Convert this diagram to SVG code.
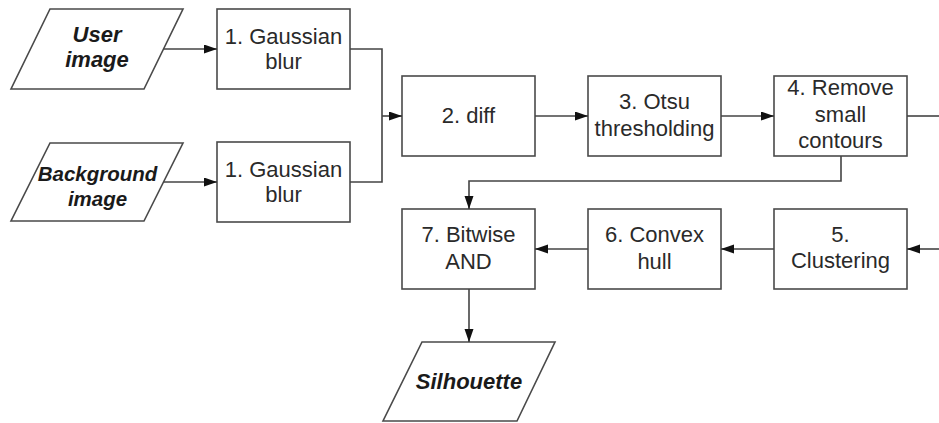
<svg xmlns="http://www.w3.org/2000/svg" width="939" height="423" viewBox="0 0 939 423">
<style>
.box{fill:#fff;stroke:#4a4a4a;stroke-width:1.6}
.lbl{font-family:"Liberation Sans",Arial,sans-serif;font-size:22px;fill:#2a2a2a;text-anchor:middle}
.io{font-family:"Liberation Sans",Arial,sans-serif;font-size:22px;font-weight:bold;font-style:italic;fill:#1a1a1a;text-anchor:middle}
.con{fill:none;stroke:#444;stroke-width:1.6}
</style>
<defs>
<marker id="ah" markerUnits="userSpaceOnUse" markerWidth="14" markerHeight="10" refX="13" refY="4.5" orient="auto">
<path d="M0,0 L13,4.5 L0,9 z" fill="#111"/>
</marker>
</defs>
<rect width="939" height="423" fill="#fff"/>
<g id="user-image">
<polygon class="box" points="50,9 183,9 144,89 11,89"/>
<text class="io" x="97" y="42">User</text>
<text class="io" x="97" y="67">image</text>
</g>
<g id="background-image">
<polygon class="box" points="50,143 183,143 144,221 11,221"/>
<text class="io" x="97.5" y="181" style="font-size:20.5px">Background</text>
<text class="io" x="97.5" y="206" style="font-size:20.5px">image</text>
</g>
<g id="gaussian-1">
<rect class="box" x="217" y="9" width="133" height="80"/>
<text class="lbl" x="283.5" y="44">1. Gaussian</text>
<text class="lbl" x="283.5" y="69">blur</text>
</g>
<g id="gaussian-2">
<rect class="box" x="217" y="142" width="133" height="80"/>
<text class="lbl" x="283.5" y="177">1. Gaussian</text>
<text class="lbl" x="283.5" y="202">blur</text>
</g>
<g id="diff">
<rect class="box" x="402" y="76" width="133" height="80"/>
<text class="lbl" x="468.5" y="123">2. diff</text>
</g>
<g id="otsu">
<rect class="box" x="588" y="76" width="133" height="80"/>
<text class="lbl" x="654.5" y="109">3. Otsu</text>
<text class="lbl" x="654.5" y="136">thresholding</text>
</g>
<g id="remove">
<rect class="box" x="774" y="76" width="133" height="80"/>
<text class="lbl" x="840.5" y="95">4. Remove</text>
<text class="lbl" x="840.5" y="122">small</text>
<text class="lbl" x="840.5" y="148">contours</text>
</g>
<g id="clustering">
<rect class="box" x="774" y="209" width="133" height="80"/>
<text class="lbl" x="840.5" y="242">5.</text>
<text class="lbl" x="840.5" y="268">Clustering</text>
</g>
<g id="convex">
<rect class="box" x="588" y="209" width="133" height="80"/>
<text class="lbl" x="654.5" y="242">6. Convex</text>
<text class="lbl" x="654.5" y="269">hull</text>
</g>
<g id="bitwise">
<rect class="box" x="402" y="209" width="133" height="80"/>
<text class="lbl" x="468.5" y="242">7. Bitwise</text>
<text class="lbl" x="468.5" y="269">AND</text>
</g>
<g id="silhouette">
<polygon class="box" points="422,342 555,342 517,421 383,421"/>
<text class="io" x="469" y="389">Silhouette</text>
</g>
<g id="connectors">
<path class="con" d="M163.5,49 L217,49" marker-end="url(#ah)"/>
<path class="con" d="M163.5,182 L217,182" marker-end="url(#ah)"/>
<path class="con" d="M350,49 L382,49 L382,182 L350,182"/>
<path class="con" d="M382,116 L402,116" marker-end="url(#ah)"/>
<path class="con" d="M535,116 L588,116" marker-end="url(#ah)"/>
<path class="con" d="M721,116 L774,116" marker-end="url(#ah)"/>
<path class="con" d="M907,116 L939,116"/>
<path class="con" d="M841,156 L841,181 L469,181 L469,209" marker-end="url(#ah)"/>
<path class="con" d="M939,249 L907,249" marker-end="url(#ah)"/>
<path class="con" d="M774,249 L721,249" marker-end="url(#ah)"/>
<path class="con" d="M588,249 L535,249" marker-end="url(#ah)"/>
<path class="con" d="M469,289 L469,342" marker-end="url(#ah)"/>
</g>
</svg>
